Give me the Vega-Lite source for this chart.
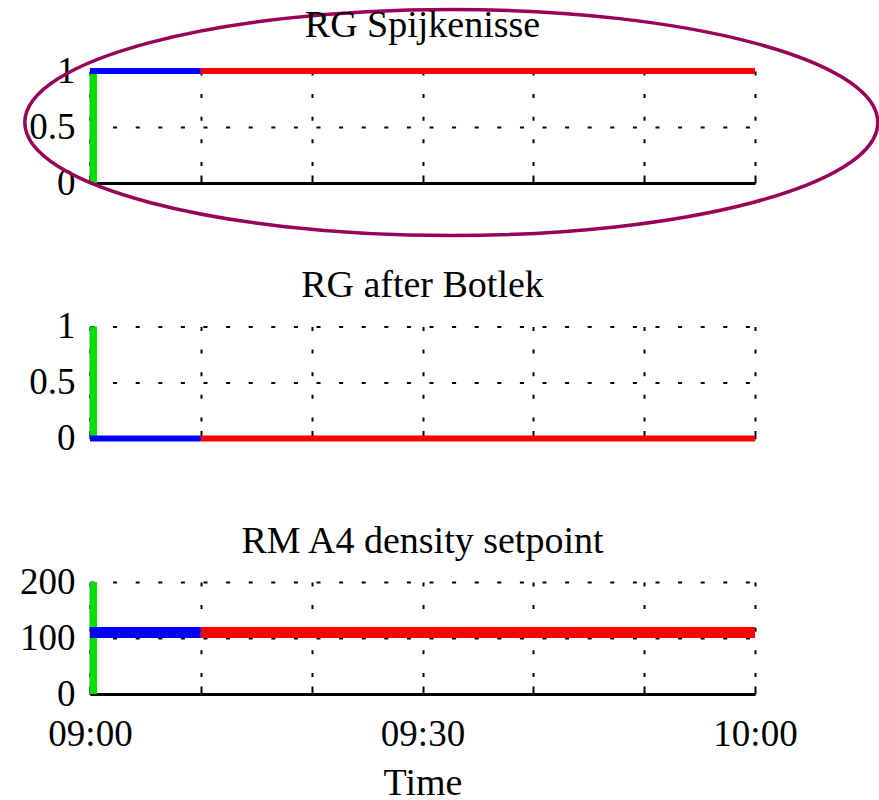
{
  "$schema": "https://vega.github.io/schema/vega-lite/v6.json",
  "background": "white",
  "padding": {"left": 17, "top": 2, "right": 0, "bottom": 0},
  "datasets": {
    "segments": [
      {"panel": "RG Spijkenisse", "series": "green", "t0": "2000-01-01T09:00:19", "t1": "2000-01-01T09:00:19", "v0": 0, "v1": 1},
      {"panel": "RG Spijkenisse", "series": "blue", "t0": "2000-01-01T09:00:00", "t1": "2000-01-01T09:10:00", "v0": 1, "v1": 1},
      {"panel": "RG Spijkenisse", "series": "red", "t0": "2000-01-01T09:10:00", "t1": "2000-01-01T10:00:00", "v0": 1, "v1": 1},
      {"panel": "RG after Botlek", "series": "green", "t0": "2000-01-01T09:00:19", "t1": "2000-01-01T09:00:19", "v0": 0, "v1": 1},
      {"panel": "RG after Botlek", "series": "blue", "t0": "2000-01-01T09:00:00", "t1": "2000-01-01T09:10:00", "v0": 0, "v1": 0},
      {"panel": "RG after Botlek", "series": "red", "t0": "2000-01-01T09:10:00", "t1": "2000-01-01T10:00:00", "v0": 0, "v1": 0},
      {"panel": "RM A4 density setpoint", "series": "green", "t0": "2000-01-01T09:00:19", "t1": "2000-01-01T09:00:19", "v0": 0, "v1": 200},
      {"panel": "RM A4 density setpoint", "series": "blue", "t0": "2000-01-01T09:00:00", "t1": "2000-01-01T09:10:00", "v0": 110, "v1": 110},
      {"panel": "RM A4 density setpoint", "series": "red", "t0": "2000-01-01T09:10:00", "t1": "2000-01-01T10:00:00", "v0": 110, "v1": 110}
    ],
    "highlight": [
      {"t0": "2000-01-01T09:32:36", "v0": 0.54}
    ]
  },
  "config": {
    "view": {"stroke": null},
    "font": "Liberation Serif",
    "title": {"font": "Liberation Serif", "fontSize": 38, "fontWeight": "normal", "color": "black"},
    "axis": {
      "labelFont": "Liberation Serif", "labelFontSize": 37, "labelColor": "black",
      "titleFont": "Liberation Serif", "titleFontSize": 38, "titleFontWeight": "normal", "titleColor": "black",
      "gridColor": "black", "gridDash": [4, 18.6], "gridWidth": 2, "gridOpacity": 1,
      "domainColor": "black", "tickColor": "black"
    },
    "axisX": {"domainWidth": 3, "tickWidth": 2, "tickSize": -8, "labelFlush": false, "labelOverlap": false, "labelPadding": 30, "titlePadding": 12},
    "axisY": {"domainWidth": 1.5, "ticks": false, "labelPadding": 15, "title": null}
  },
  "spacing": 143.5,
  "bounds": "flush",
  "vconcat": [
    {
      "title": {"text": "RG Spijkenisse", "offset": -43},
      "width": 665, "height": 112,
      "encoding": {
        "x": {"field": "t0", "type": "temporal",
              "scale": {"domain": [{"year": 2000, "month": 1, "date": 1, "hours": 9}, {"year": 2000, "month": 1, "date": 1, "hours": 10}]},
              "axis": {"title": null, "labels": false,
                       "values": [{"year": 2000, "month": 1, "date": 1, "hours": 9, "minutes": 0}, {"year": 2000, "month": 1, "date": 1, "hours": 9, "minutes": 10}, {"year": 2000, "month": 1, "date": 1, "hours": 9, "minutes": 20}, {"year": 2000, "month": 1, "date": 1, "hours": 9, "minutes": 30}, {"year": 2000, "month": 1, "date": 1, "hours": 9, "minutes": 40}, {"year": 2000, "month": 1, "date": 1, "hours": 9, "minutes": 50}, {"year": 2000, "month": 1, "date": 1, "hours": 10, "minutes": 0}]}},
        "y": {"field": "v0", "type": "quantitative", "scale": {"domain": [0, 1]},
              "axis": {"values": [0, 0.5, 1], "format": "~r", "title": null}}
      },
      "layer": [
        {
          "data": {"name": "segments"},
          "transform": [{"filter": "datum.panel === 'RG Spijkenisse' && datum.series === 'green'"}],
          "mark": {"type": "rule", "strokeWidth": 7},
          "encoding": {"x2": {"field": "t1"}, "y2": {"field": "v1"},
                       "color": {"field": "series", "type": "nominal", "scale": {"domain": ["green", "blue", "red"], "range": ["#00e000", "#0000ff", "#ff0000"]}, "legend": null}}
        },
        {
          "data": {"name": "segments"},
          "transform": [{"filter": "datum.panel === 'RG Spijkenisse' && datum.series !== 'green'"}],
          "mark": {"type": "rule", "strokeWidth": 6},
          "encoding": {"x2": {"field": "t1"}, "y2": {"field": "v1"},
                       "color": {"field": "series", "type": "nominal", "scale": {"domain": ["green", "blue", "red"], "range": ["#00e000", "#0000ff", "#ff0000"]}, "legend": null}}
        },
        {
          "data": {"name": "highlight"},
          "mark": {"type": "point", "shape": "M -1 0 A 1 0.265 0 1 1 1 0 A 1 0.265 0 1 1 -1 0 Z", "size": 727609, "filled": false, "stroke": "#990059", "strokeWidth": 3.5, "opacity": 1}
        }
      ]
    },
    {
      "title": {"text": "RG after Botlek", "offset": 3},
      "width": 665, "height": 112,
      "encoding": {
        "x": {"field": "t0", "type": "temporal",
              "scale": {"domain": [{"year": 2000, "month": 1, "date": 1, "hours": 9}, {"year": 2000, "month": 1, "date": 1, "hours": 10}]},
              "axis": {"title": null, "labels": false,
                       "values": [{"year": 2000, "month": 1, "date": 1, "hours": 9, "minutes": 0}, {"year": 2000, "month": 1, "date": 1, "hours": 9, "minutes": 10}, {"year": 2000, "month": 1, "date": 1, "hours": 9, "minutes": 20}, {"year": 2000, "month": 1, "date": 1, "hours": 9, "minutes": 30}, {"year": 2000, "month": 1, "date": 1, "hours": 9, "minutes": 40}, {"year": 2000, "month": 1, "date": 1, "hours": 9, "minutes": 50}, {"year": 2000, "month": 1, "date": 1, "hours": 10, "minutes": 0}]}},
        "y": {"field": "v0", "type": "quantitative", "scale": {"domain": [0, 1]},
              "axis": {"values": [0, 0.5, 1], "format": "~r", "title": null}}
      },
      "layer": [
        {
          "data": {"name": "segments"},
          "transform": [{"filter": "datum.panel === 'RG after Botlek' && datum.series === 'green'"}],
          "mark": {"type": "rule", "strokeWidth": 7},
          "encoding": {"x2": {"field": "t1"}, "y2": {"field": "v1"},
                       "color": {"field": "series", "type": "nominal", "scale": {"domain": ["green", "blue", "red"], "range": ["#00e000", "#0000ff", "#ff0000"]}, "legend": null}}
        },
        {
          "data": {"name": "segments"},
          "transform": [{"filter": "datum.panel === 'RG after Botlek' && datum.series !== 'green'"}],
          "mark": {"type": "rule", "strokeWidth": 6},
          "encoding": {"x2": {"field": "t1"}, "y2": {"field": "v1"},
                       "color": {"field": "series", "type": "nominal", "scale": {"domain": ["green", "blue", "red"], "range": ["#00e000", "#0000ff", "#ff0000"]}, "legend": null}}
        }
      ]
    },
    {
      "title": {"text": "RM A4 density setpoint", "offset": 2},
      "width": 665, "height": 112,
      "encoding": {
        "x": {"field": "t0", "type": "temporal",
              "scale": {"domain": [{"year": 2000, "month": 1, "date": 1, "hours": 9}, {"year": 2000, "month": 1, "date": 1, "hours": 10}]},
              "axis": {"title": "Time",
                       "labelExpr": "minutes(datum.value) % 30 === 0 ? timeFormat(datum.value, '%H:%M') : ''",
                       "values": [{"year": 2000, "month": 1, "date": 1, "hours": 9, "minutes": 0}, {"year": 2000, "month": 1, "date": 1, "hours": 9, "minutes": 10}, {"year": 2000, "month": 1, "date": 1, "hours": 9, "minutes": 20}, {"year": 2000, "month": 1, "date": 1, "hours": 9, "minutes": 30}, {"year": 2000, "month": 1, "date": 1, "hours": 9, "minutes": 40}, {"year": 2000, "month": 1, "date": 1, "hours": 9, "minutes": 50}, {"year": 2000, "month": 1, "date": 1, "hours": 10, "minutes": 0}]}},
        "y": {"field": "v0", "type": "quantitative", "scale": {"domain": [0, 200]},
              "axis": {"values": [0, 100, 200], "format": "~r", "title": null}}
      },
      "layer": [
        {
          "data": {"name": "segments"},
          "transform": [{"filter": "datum.panel === 'RM A4 density setpoint' && datum.series === 'green'"}],
          "mark": {"type": "rule", "strokeWidth": 7},
          "encoding": {"x2": {"field": "t1"}, "y2": {"field": "v1"},
                       "color": {"field": "series", "type": "nominal", "scale": {"domain": ["green", "blue", "red"], "range": ["#00e000", "#0000ff", "#ff0000"]}, "legend": null}}
        },
        {
          "data": {"name": "segments"},
          "transform": [{"filter": "datum.panel === 'RM A4 density setpoint' && datum.series !== 'green'"}],
          "mark": {"type": "rule", "strokeWidth": 11},
          "encoding": {"x2": {"field": "t1"}, "y2": {"field": "v1"},
                       "color": {"field": "series", "type": "nominal", "scale": {"domain": ["green", "blue", "red"], "range": ["#00e000", "#0000ff", "#ff0000"]}, "legend": null}}
        }
      ]
    }
  ]
}
